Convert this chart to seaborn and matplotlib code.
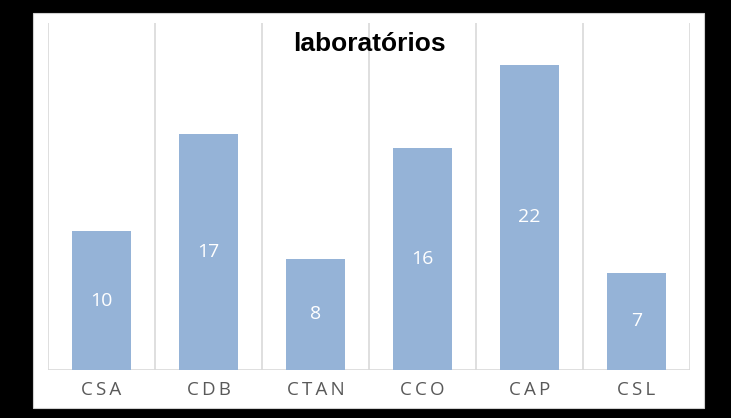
import matplotlib
matplotlib.use("Agg")
import matplotlib.pyplot as plt
import seaborn as sns
import pandas as pd
from matplotlib.patches import Rectangle

categories = ["CSA", "CDB", "CTAN", "CCO", "CAP", "CSL"]
values = [10, 17, 8, 16, 22, 7]
title = "laboratórios"

sns.set_theme(style="white")
plt.rcParams['font.family'] = ['Open Sans', 'DejaVu Sans']

W, H = 731, 418
fig = plt.figure(figsize=(W / 100, H / 100), dpi=100)
fig.patch.set_facecolor("black")
fig.add_artist(Rectangle((33 / W, (H - 408) / H), 671 / W, 395 / H,
                         transform=fig.transFigure, facecolor="white",
                         edgecolor="#D0D0D0", linewidth=0.8, zorder=0))

ax = fig.add_axes([48 / W, (H - 370) / H, (690 - 48) / W, (370 - 23) / H])
ax.set_facecolor("none")

df = pd.DataFrame({"cat": categories, "val": values})
sns.barplot(data=df, x="cat", y="val", color="#95B3D7", saturation=1,
            width=0.56, ax=ax, zorder=2, linewidth=0)

ax.set_ylim(0, 25)
ax.set_xlim(-0.5, len(categories) - 0.5)
for i in range(len(categories) + 1):
    ax.axvline(i - 0.5, color="#D9D9D9", linewidth=1.2, zorder=1)
ax.axhline(0, color="#D9D9D9", linewidth=1.2, zorder=1)

for s in ax.spines.values():
    s.set_visible(False)
ax.set_yticks([])
ax.set_xlabel("")
ax.set_ylabel("")
ax.set_xticks(range(len(categories)))
ax.set_xticklabels(["\u2009".join(c) for c in categories])
ax.tick_params(axis="x", length=0, pad=8, labelsize=13.5, labelcolor="#595959")

for p, v in zip(ax.patches, values):
    ax.text(p.get_x() + p.get_width() / 2, v / 2, str(v), ha="center",
            va="center", color="white", fontsize=14)

ax.text(0.5, 0.94, title, transform=ax.transAxes, ha="center", va="center",
        fontsize=19, fontweight="bold", color="black",
        family=["Liberation Sans", "DejaVu Sans"], zorder=3)

fig.savefig("out.png", dpi=100, facecolor=fig.get_facecolor())
